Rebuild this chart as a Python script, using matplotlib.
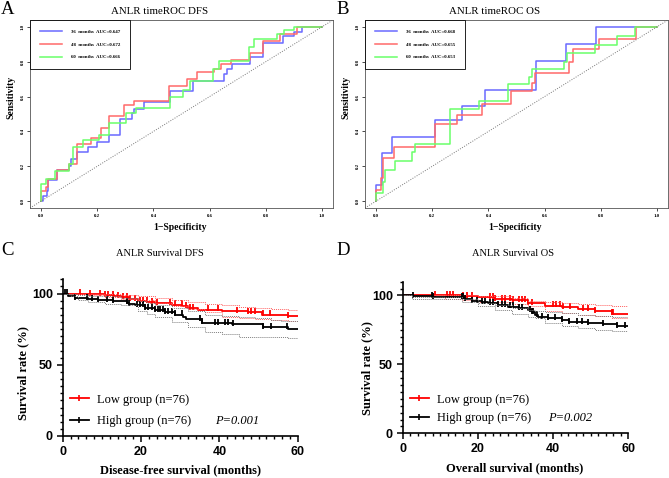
import numpy as np
import matplotlib
matplotlib.use("Agg")
import matplotlib.pyplot as plt
from matplotlib.lines import Line2D
from matplotlib.ticker import MultipleLocator

SERIF = ["Liberation Serif", "DejaVu Serif"]
SANS = ["Liberation Sans", "DejaVu Sans"]
plt.rcParams["font.family"] = SERIF

# ---------------- ROC data (fpr, tpr vertices, step curves) ----------------
roc_labels_dfs = ["36  months  AUC=0.647", "48  months  AUC=0.672", "60  months  AUC=0.666"]
roc_labels_os = ["36  months  AUC=0.668", "48  months  AUC=0.655", "60  months  AUC=0.653"]

dfs36_fpr = [0, 0.006, 0.02, 0.024, 0.057, 0.10, 0.105, 0.128, 0.166, 0.20, 0.243, 0.28, 0.325, 0.33,
             0.367, 0.46, 0.54, 0.65, 0.663, 0.68, 0.745, 0.79, 0.86, 0.90, 0.93, 1.0]
dfs36_tpr = [0, 0.03, 0.06, 0.12, 0.18, 0.20, 0.24, 0.28, 0.31, 0.34, 0.38, 0.47, 0.505, 0.53,
             0.567, 0.63, 0.69, 0.728, 0.757, 0.786, 0.83, 0.908, 0.95, 0.97, 1.0, 1.0]
dfs48_fpr = [0, 0.0, 0.018, 0.024, 0.057, 0.10, 0.128, 0.178, 0.213, 0.243, 0.296, 0.33, 0.455, 0.52,
             0.555, 0.615, 0.64, 0.675, 0.745, 0.79, 0.85, 0.91, 1.0]
dfs48_tpr = [0, 0.055, 0.078, 0.126, 0.18, 0.21, 0.33, 0.36, 0.42, 0.49, 0.55, 0.573, 0.66, 0.70,
             0.744, 0.76, 0.785, 0.813, 0.85, 0.92, 0.96, 1.0, 1.0]
dfs60_fpr = [0, 0.0, 0.018, 0.05, 0.10, 0.112, 0.148, 0.207, 0.243, 0.302, 0.337, 0.46, 0.506, 0.53,
             0.613, 0.633, 0.74, 0.757, 0.84, 0.864, 0.90, 1.0]
dfs60_tpr = [0, 0.10, 0.126, 0.175, 0.21, 0.31, 0.35, 0.38, 0.45, 0.505, 0.534, 0.60, 0.64, 0.69,
             0.757, 0.806, 0.883, 0.932, 0.96, 0.98, 1.0, 1.0]

os36_fpr = [0, 0, 0.02, 0.055, 0.208, 0.304, 0.389, 0.57, 0.677, 0.783, 1.0]
os36_tpr = [0, 0.093, 0.276, 0.367, 0.463, 0.544, 0.637, 0.807, 0.903, 1.0, 1.0]
os48_fpr = [0, 0, 0.018, 0.025, 0.063, 0.208, 0.288, 0.377, 0.48, 0.555, 0.565, 0.686, 0.70, 0.795, 0.925, 1.0]
os48_tpr = [0, 0.064, 0.13, 0.25, 0.31, 0.44, 0.494, 0.556, 0.63, 0.68, 0.737, 0.80, 0.872, 0.93, 1.0, 1.0]
os60_fpr = [0, 0, 0.025, 0.03, 0.066, 0.128, 0.137, 0.262, 0.365, 0.47, 0.546, 0.555, 0.67, 0.68,
            0.78, 0.858, 0.923, 1.0]
os60_tpr = [0, 0.044, 0.11, 0.18, 0.228, 0.28, 0.328, 0.527, 0.575, 0.672, 0.714, 0.757, 0.80, 0.85,
            0.894, 0.95, 1.0, 1.0]

roc_ticks = [0.0, 0.2, 0.4, 0.6, 0.8, 1.0]
roc_colors = ["#6a6aff", "#ff6a6a", "#6aff6a"]

# ---------------- KM data ----------------
# DFS
dfs_low_t = [0, 6.5, 10.8, 13, 15, 17, 19.3, 21.5, 23.6, 27.8, 30.5, 32, 34.6, 40.6, 47.4, 50.8, 57.6, 60]
dfs_low_s = [100, 99.5, 98.8, 98.2, 97.4, 96.4, 95.0, 94.3, 93.6, 92.3, 91.0, 90.0, 88.8, 88.0, 86.7, 85.2, 84.1, 84.1]
dfs_low_cens = [4.4, 6.97, 9.5, 10.8, 11.6, 12.9, 14.2, 15.5, 16.3, 17.2, 18.5, 19.7, 20.6, 21.4, 22.7, 24,
                27.4, 28.7, 30.4, 31.6, 32.5, 33.3, 37.2, 39.7, 44.4, 47.4, 48.2, 49.1, 51.2, 52.9, 57.6]
dfs_high_t = [0, 1.4, 3.1, 6.5, 9.1, 12.9, 16.3, 16.8, 18.5, 21, 23.6, 26.1, 28.7, 30.8, 31.6, 35.5, 38.9,
              43.1, 51.2, 57.6, 60]
dfs_high_s = [100, 98.6, 97.1, 96.4, 95.6, 94.9, 93.7, 92.7, 91.8, 90.0, 88.3, 87.2, 85.2, 83.6, 82.0, 79.6,
              79.0, 78.3, 76.6, 74.8, 74.8]
dfs_high_cens = [0.6, 1.0, 3.1, 6.1, 7.4, 9.1, 11.2, 12.9, 16.3, 16.8, 18.9, 19.7, 20.6, 21, 21.9, 22.7, 23.6,
                 24.4, 24.8, 25.7, 26.1, 26.96, 27.8, 28.7, 30.4, 35, 35.5, 38.9, 39.7, 41.4, 42.3, 43.6,
                 51.2, 53.3, 57.2]
dfs_low_ci_t = [0, 6.5, 10.8, 15, 19.3, 23.6, 27.8, 32, 36.3, 40.6, 45, 49, 53.3, 57.6, 60]
dfs_low_hi = [100, 100, 99.8, 99.0, 98.0, 97.0, 95.8, 94.4, 92.5, 91.7, 90.6, 89.8, 89.4, 88.8, 88.3]
dfs_low_lo = [100, 98.8, 97.7, 96.5, 95.3, 93.5, 91.3, 88.9, 86.7, 83.6, 83.0, 82.4, 81.5, 80.6, 79.6]
dfs_high_ci_t = [0, 2, 4, 6.5, 10.8, 15, 19.3, 21.5, 23.6, 27.8, 32, 36.3, 40.6, 45, 49, 53.3, 55.8, 57.6, 60]
dfs_high_hi = [100, 99.5, 99, 98.5, 98, 97.2, 95, 93.5, 91.7, 90, 88, 84.7, 84.2, 83.6, 82.5, 81.3, 81, 80.5, 80]
dfs_high_lo = [100, 98.3, 95.3, 94.0, 93.0, 91.8, 87.5, 85.5, 83.6, 80.3, 76.6, 73.1, 71.5, 69.6, 69.6, 69.6, 69.6, 68.5, 67.3]

# OS
os_low_t = [0, 15.7, 20, 24.5, 29, 33.4, 37.8, 42.3, 46.7, 51.1, 55.6, 60]
os_low_s = [100, 99.4, 98.6, 97.6, 96.6, 94.7, 92.7, 91.8, 90.3, 88.6, 86.9, 86.9]
os_low_cens = [8.6, 11.7, 12.6, 13.5, 16.1, 17.0, 18.3, 23.2, 24.1, 24.5, 26.3, 27.2, 28.5, 29.4, 30.8, 31.6,
               32.5, 33.4, 34.3, 40.1, 40.9, 41.8, 42.7, 44.5, 48, 49.4, 51.1, 55.6, 56]
os_high_t = [0, 2.8, 8.1, 15.7, 16.6, 18.3, 21, 22.8, 25.4, 28.1, 30.8, 33.4, 34.3, 35.2, 36.1, 38.7, 42.3,
             44.1, 49.4, 53.4, 56.9, 60]
os_high_s = [100, 99.4, 99.0, 98.5, 97.3, 96.1, 95.4, 94.2, 93.0, 92.0, 90.9, 89.7, 87.7, 85.8, 84.1, 83.4,
             82.4, 81.0, 80.0, 79.3, 78.1, 77.6]
os_high_cens = [2.8, 7.7, 8.1, 15.7, 16.1, 16.6, 18.3, 19.7, 21, 21.9, 23.2, 24.1, 25.4, 26.3, 27.2, 28.5,
                29.4, 30.8, 31.6, 33.9, 34.3, 34.7, 35.6, 37, 38.7, 40.5, 42.3, 44.1, 46.3, 47.6, 49.4,
                53.4, 56.9, 59.1]
os_low_ci_t = [0, 11.2, 15.7, 20, 24.5, 29, 33.4, 37.8, 42.3, 46.7, 51.1, 55.6, 60]
os_low_hi = [100, 100, 100, 99.8, 99.5, 98.0, 96.2, 95.4, 94.5, 94.0, 93.3, 92.3, 91.4]
os_low_lo = [100, 97.1, 96.5, 95.6, 95.2, 93.5, 92.2, 88.8, 87.4, 85.8, 85.0, 83.5, 82.0]
os_high_ci_t = [0, 2.4, 15.7, 20, 24.5, 29, 33.4, 35.2, 37.8, 42.3, 46.7, 51.1, 55.6, 60]
os_high_hi = [100, 99.0, 97.1, 94.7, 93.0, 91.0, 89.2, 88.6, 88.0, 87.4, 86.0, 85.0, 84.4, 83.7]
os_high_lo = [100, 97.1, 95.2, 92.2, 89.8, 86.9, 84.5, 83.7, 80.0, 77.6, 76.5, 75.2, 74.0, 70.8]


def roc_panel(ax, curves, labels):
    for (fpr, tpr), col, lab in zip(curves, roc_colors, labels):
        ax.plot(fpr, tpr, drawstyle="steps-post", color=col, lw=1.1, label=lab)
    ax.axline((0, 0), (1, 1), color="#777777", lw=0.7, ls=(0, (1, 1.5)))
    ax.set_xlim(-0.04, 1.04)
    ax.set_ylim(-0.04, 1.04)
    ax.set_xticks(roc_ticks)
    ax.set_yticks(roc_ticks)
    ax.set_xticklabels([f"{v:.1f}" for v in roc_ticks], fontsize=3.5, fontweight="bold")
    ax.set_yticklabels([f"{v:.1f}" for v in roc_ticks], fontsize=3.5, fontweight="bold",
                       rotation=90, va="center")
    ax.tick_params(length=2, width=0.5, pad=2)
    for s in ax.spines.values():
        s.set_linewidth(0.6)
        s.set_color("#555555")
    leg = ax.legend(loc="upper left", bbox_to_anchor=(0, 0, 0.33, 1), mode="expand",
                    borderaxespad=0, prop={"weight": "bold", "size": 3.5},
                    handlelength=4.5, handletextpad=2.0, labelspacing=1.7, borderpad=2.0,
                    fancybox=False, edgecolor="black", framealpha=1)
    leg.get_frame().set_linewidth(0.6)


def km_step(t, s, x):
    idx = np.searchsorted(t, x, side="right") - 1
    return np.asarray(s)[idx]


def km_panel(ax, low, high, p_text, leg_anchor, leg_space, p_x):
    for (t, s, cens, ci_t, hi, lo), col, cicol in zip([low, high], ["#ff0000", "#000000"],
                                                      ["#ff6060", "#808080"]):
        ax.plot(t, s, drawstyle="steps-post", color=col, lw=1.3)
        ax.plot(cens, km_step(t, s, cens) + 0.8, ls="none", marker="|", ms=4, mew=1.3, color=col)
        ax.plot(ci_t, hi, drawstyle="steps-post", color=cicol, lw=0.7, ls=(0, (1, 1)))
        ax.plot(ci_t, lo, drawstyle="steps-post", color=cicol, lw=0.7, ls=(0, (1, 1)))
    ax.set_xlim(0, 60)
    ax.set_ylim(0, 110)
    ax.set_xticks([0, 20, 40, 60])
    ax.set_yticks([0, 50, 100])
    ax.xaxis.set_minor_locator(MultipleLocator(2))
    ax.yaxis.set_minor_locator(MultipleLocator(5))
    for lab in ax.get_xticklabels() + ax.get_yticklabels():
        lab.set_family(SANS)
        lab.set_fontweight("bold")
        lab.set_fontsize(9)
    ax.tick_params(which="major", length=4, width=1.1, pad=3)
    ax.tick_params(which="minor", length=2.5, width=1.0)
    for side in ["top", "right"]:
        ax.spines[side].set_visible(False)
    for side in ["left", "bottom"]:
        ax.spines[side].set_linewidth(1.2)
    handles = [Line2D([], [], color="#ff0000", lw=1.3, marker="|", ms=4, mew=1.2),
               Line2D([], [], color="#000000", lw=1.3, marker="|", ms=4, mew=1.2)]
    ax.legend(handles, ["Low group (n=76)", "High group (n=76)"], loc="lower left",
              bbox_to_anchor=leg_anchor, borderaxespad=0, borderpad=0, frameon=False,
              fontsize=9, handlelength=1.5, handletextpad=0.7, labelspacing=leg_space)
    ax.text(p_x, leg_anchor[1] + 0.04, p_text, transform=ax.transAxes, fontsize=9,
            style="italic", va="center", ha="left")


fig = plt.figure(figsize=(6.69, 4.78), dpi=100)
W, H = 669, 478


def fx(px):
    return px / W


def fy(py):
    return 1 - py / H


axA = fig.add_axes([fx(30), fy(208), fx(303), (208 - 20) / H])
axB = fig.add_axes([fx(365), fy(208), fx(303), (208 - 20) / H])
axC = fig.add_axes([fx(62.7), fy(436), fx(235), (436 - 279.3) / H])
axD = fig.add_axes([fx(402.7), fy(433.3), fx(225.6), (433.3 - 281.7) / H])

roc_panel(axA, [(dfs36_fpr, dfs36_tpr), (dfs48_fpr, dfs48_tpr), (dfs60_fpr, dfs60_tpr)], roc_labels_dfs)
roc_panel(axB, [(os36_fpr, os36_tpr), (os48_fpr, os48_tpr), (os60_fpr, os60_tpr)], roc_labels_os)

km_panel(axC,
         (dfs_low_t, dfs_low_s, dfs_low_cens, dfs_low_ci_t, dfs_low_hi, dfs_low_lo),
         (dfs_high_t, dfs_high_s, dfs_high_cens, dfs_high_ci_t, dfs_high_hi, dfs_high_lo),
         "P=0.001", (0.03, 0.056), 0.76, 0.648)
km_panel(axD,
         (os_low_t, os_low_s, os_low_cens, os_low_ci_t, os_low_hi, os_low_lo),
         (os_high_t, os_high_s, os_high_cens, os_high_ci_t, os_high_hi, os_high_lo),
         "P=0.002", (0.032, 0.059), 0.52, 0.645)

# panel letters and titles
for letter, x, y in [("A", 8, 9), ("B", 343, 9), ("C", 8, 251), ("D", 343, 251)]:
    fig.text(fx(x), fy(y), letter, fontsize=13.5, ha="center", va="center")
fig.text(fx(160), fy(12), "ANLR timeROC DFS", fontsize=7.8, ha="center", va="center")
fig.text(fx(495), fy(12), "ANLR timeROC OS", fontsize=7.8, ha="center", va="center")
fig.text(fx(180), fy(228), "1\u2212Specificity", fontsize=7, fontweight="bold", ha="center", va="center")
fig.text(fx(515), fy(228), "1\u2212Specificity", fontsize=7, fontweight="bold", ha="center", va="center")
fig.text(fx(11), fy(97), "Sensitivity", fontsize=7, fontweight="bold", ha="center", va="center", rotation=90)
fig.text(fx(346), fy(97), "Sensitivity", fontsize=7, fontweight="bold", ha="center", va="center", rotation=90)

fig.text(fx(160), fy(253), "ANLR Survival DFS", fontsize=7.5, ha="center", va="center")
fig.text(fx(513), fy(253), "ANLR Survival OS", fontsize=7.5, ha="center", va="center")
fig.text(fx(180), fy(470), "Disease-free survival (months)", fontsize=9, fontweight="bold",
         ha="center", va="center")
fig.text(fx(515), fy(468), "Overall survival (months)", fontsize=9, fontweight="bold",
         ha="center", va="center")
fig.text(fx(23), fy(373), "Survival rate (%)", fontsize=9, fontweight="bold", ha="center",
         va="center", rotation=90)
fig.text(fx(367), fy(368), "Survival rate (%)", fontsize=9, fontweight="bold", ha="center",
         va="center", rotation=90)

fig.savefig("out.png", dpi=100)
